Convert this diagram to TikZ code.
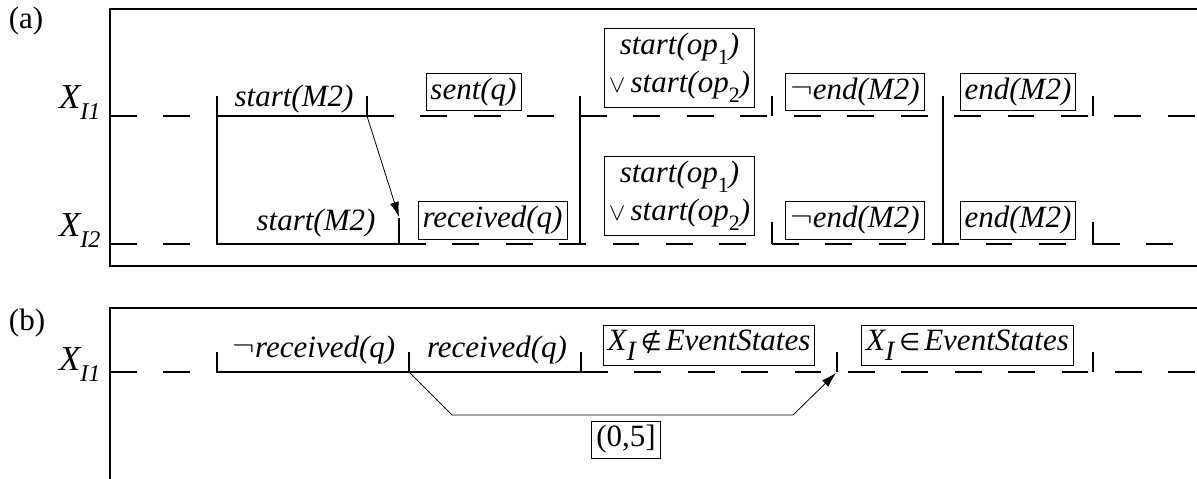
\documentclass[tikz,border=0pt]{standalone}
\usepackage{fontspec}
\setmainfont{Liberation Serif}
\newfontfamily\symfont{DejaVu Sans}
\usetikzlibrary{arrows.meta}

\newcommand{\lowsub}[2][22]{\raisebox{-0.33em}{\fontsize{#1}{#1}\selectfont #2}}
\newcommand{\evneg}{\raisebox{0.05em}{\scalebox{1.35}[1.2]{$\neg$}}}
\newcommand{\evsym}[1]{{\symfont\fontsize{24}{24}\selectfont #1}}

\begin{document}
\begin{tikzpicture}[x=1pt, y=-1pt, line width=1.1pt,
    font=\fontsize{31}{36}\selectfont\itshape,
    evbox/.style={draw, line width=0.9pt, inner sep=4.5pt, align=center},
    evtext/.style={inner sep=0pt, anchor=base},
    panel/.style={font=\fontsize{31}{36}\selectfont\upshape},
    iflabel/.style={inner sep=0pt, anchor=base east, font=\fontsize{35}{40}\selectfont\itshape},
    dsig/.style={dash pattern=on 26.7pt off 26.7pt},
    arrow/.style={-{Latex[length=15pt,width=9pt]}, line width=0.8pt}]

    \useasboundingbox (0,0) rectangle (1197,479);

    % panel (a)
    \draw (1197,9) -- (110,9) -- (110,266) -- (1197,266);
    \node [panel] (alabel) at (26,21) {(a)};
    \node [iflabel] (xone) at (101,108) {X\lowsub[24]{I1}};
    \node [iflabel] (xtwo) at (101,236) {X\lowsub[24]{I2}};

    % X_I1
    \draw [dsig] (110,116) -- (217,116);
    \draw (217,96) -- (217,244) -- (399,244);
    \draw (217,116) -- (367,116);
    \draw (367,96) -- (367,116);
    \draw [dsig] (367,116) -- (580,116);
    \draw (580,96) -- (580,244);
    \draw [dsig] (580,116) -- (772,116);
    \draw (772,96) -- (772,116);
    \draw [dsig, dash phase=31.4pt] (772,116) -- (1197,116);
    \draw (943,96) -- (943,244);
    \draw (1093,96) -- (1093,116);

    % X_I2
    \draw [dsig] (110,244) -- (217,244);
    \draw (399,218) -- (399,244);
    \draw [dsig] (399,244) -- (772,244);
    \draw (772,222) -- (772,244);
    \draw [dsig] (772,244) -- (1093,244);
    \draw (1093,222) -- (1093,244);
    \draw [dsig] (1093,244) -- (1197,244);

    \node [evtext] (startA) at (294,106) {start(M2)};
    \node [evtext] (startB) at (316,230) {start(M2)};
    \node [evbox] (sentq) at (473.5,92) {sent(q)};
    \node [evbox] (recvq) at (492.5,220.5) {received(q)};
    \node [evbox] (opsA) at (679.5,68) {start(op\lowsub{\upshape 1})\\[2pt]$\vee$\,start(op\lowsub{\upshape 2})};
    \node [evbox] (opsB) at (679.5,196) {start(op\lowsub{\upshape 1})\\[2pt]$\vee$\,start(op\lowsub{\upshape 2})};
    \node [evbox] (nendA) at (855,92) {\evneg end(M2)};
    \node [evbox] (nendB) at (855,220.5) {\evneg end(M2)};
    \node [evbox] (endA) at (1018,92) {end(M2)};
    \node [evbox] (endB) at (1018,220.5) {end(M2)};

    \coordinate (sendM2) at (367,116);
    \coordinate (recvM2) at (399,217);
    \draw [arrow] (sendM2) -- (recvM2);

    % panel (b)
    \draw (1197,308) -- (110,308) -- (110,479);
    \node [panel] (blabel) at (27,323) {(b)};
    \node [iflabel] (xthree) at (101,370) {X\lowsub[24]{I1}};

    \draw [dsig] (110,372) -- (217,372);
    \draw (217,352) -- (217,372) -- (581,372);
    \draw (409,352) -- (409,372);
    \draw (581,352) -- (581,372);
    \draw [dsig] (581,372) -- (1197,372);
    \draw (837,352) -- (837,372);
    \draw (1093,352) -- (1093,372);

    \node [evtext] (nrecv) at (314,357) {\evneg received(q)};
    \node [evtext] (recv) at (497,357) {received(q)};
    \node [evbox] (notin) at (709,345.5) {X\lowsub[28]{I}\kern5pt\evsym{∉}\kern4pt EventStates};
    \node [evbox] (isin) at (967.5,345.5) {X\lowsub[28]{I}\kern5pt\evsym{∈}\kern4pt EventStates};
    \node [evbox, panel] (delay) at (626,439.5) {(0,5]};

    \coordinate (recvT) at (409,372);
    \coordinate (inT) at (836,373);
    \draw [arrow] (recvT) -- ++(43,43) -- (793,415) -- (inT);

\end{tikzpicture}
\end{document}
